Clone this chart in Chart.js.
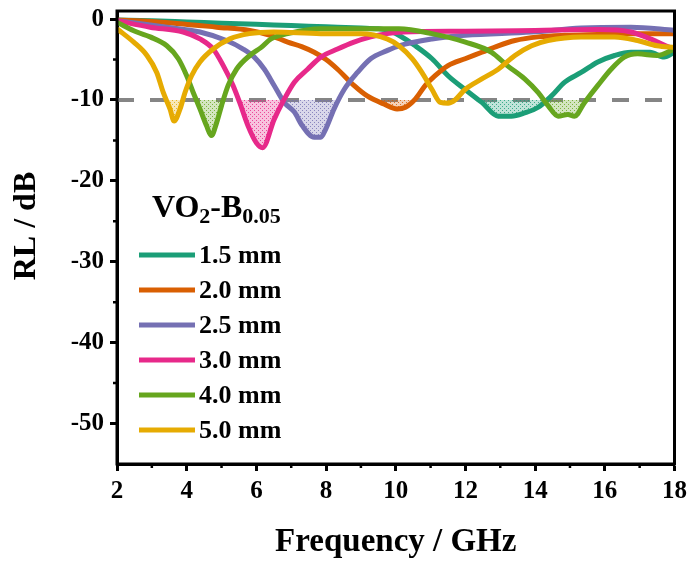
<!DOCTYPE html>
<html>
<head>
<meta charset="utf-8">
<script src="https://cdn.jsdelivr.net/npm/chart.js@4.4.1/dist/chart.umd.min.js"></script>
<style>
html,body{margin:0;padding:0;background:#ffffff;}
#wrap{width:693px;height:563px;position:relative;}
</style>
</head>
<body>
<div id="wrap"><canvas id="c" width="693" height="563"></canvas></div>
<script>
// ---------------- data ----------------
const seriesLabels = ['1.5 mm', '2.0 mm', '2.5 mm', '3.0 mm', '4.0 mm', '5.0 mm'];
const seriesColors = ['#1b9e77', '#d95f02', '#7570b3', '#e7298a', '#66a61e', '#e6ab02'];

const freq15 = [2, 3, 4, 5, 6, 7, 8, 9, 9.5, 9.8, 10.09, 10.56, 11.04, 11.5, 11.99, 12.47, 12.94, 13.32, 13.7, 14.09, 14.47, 14.85, 15.32, 15.8, 16.28, 16.75, 17.3, 17.7, 18];
const rl15   = [-0.1, -0.2, -0.35, -0.5, -0.65, -0.8, -0.95, -1.1, -1.2, -1.4, -2.0, -3.3, -4.9, -7.0, -8.7, -10.3, -12.0, -12.0, -11.6, -10.9, -9.5, -7.8, -6.6, -5.3, -4.5, -4.1, -4.1, -4.7, -4.1];

const freq20 = [2, 3, 3.9, 4.86, 5.81, 6.4, 6.9, 7.3, 7.66, 8.0, 8.33, 8.8, 9.18, 9.66, 10.04, 10.28, 10.56, 10.85, 11.13, 11.5, 11.99, 12.47, 12.94, 13.42, 14.09, 14.85, 15.8, 16.75, 18];
const rl20   = [-0.1, -0.3, -0.6, -1.0, -1.4, -2.0, -2.85, -3.4, -4.1, -5.0, -6.2, -8.2, -9.5, -10.5, -11.1, -10.9, -9.9, -8.2, -7.0, -5.75, -4.9, -4.1, -3.3, -2.65, -2.2, -2.0, -1.9, -1.8, -1.8];

const freq25 = [2, 3.43, 4.38, 5.14, 5.62, 5.94, 6.23, 6.51, 6.8, 7.09, 7.32, 7.66, 7.85, 7.99, 8.23, 8.52, 8.9, 9.28, 9.75, 10.09, 11.04, 12.0, 13.9, 15.32, 16.75, 18];
const rl25   = [-0.2, -1.0, -1.6, -2.65, -3.7, -4.7, -6.2, -8.2, -10.3, -11.5, -13.2, -14.6, -14.6, -13.6, -11.1, -8.7, -6.6, -4.9, -3.9, -3.3, -2.45, -2.0, -1.6, -1.1, -1.0, -1.4];

const freq30 = [2, 2.95, 3.9, 4.38, 4.76, 5.05, 5.33, 5.52, 5.76, 6.0, 6.18, 6.51, 6.8, 7.09, 7.47, 7.85, 8.33, 8.8, 9.28, 9.75, 10.23, 12.0, 14.0, 15.8, 16.75, 17.5, 18];
const rl30   = [-0.2, -1.0, -1.6, -2.45, -3.7, -5.75, -8.2, -10.3, -13.2, -15.3, -15.9, -12.4, -9.9, -7.8, -6.2, -4.7, -3.7, -2.85, -2.2, -1.8, -1.6, -1.5, -1.4, -1.3, -1.6, -2.8, -3.8];

const freq40 = [2, 2.57, 2.95, 3.43, 3.76, 4.0, 4.19, 4.38, 4.57, 4.71, 4.86, 5.0, 5.19, 5.43, 5.81, 6.14, 6.42, 6.9, 7.85, 9.0, 10.09, 11.04, 12.0, 12.75, 13.2, 13.7, 14.09, 14.37, 14.66, 14.94, 15.13, 15.42, 15.8, 16.18, 16.56, 16.94, 17.5, 18];
const rl40   = [-0.4, -1.6, -2.2, -3.3, -4.9, -7.0, -9.1, -11.1, -13.2, -14.4, -12.8, -10.7, -8.2, -6.2, -4.5, -3.5, -2.45, -1.8, -1.2, -1.2, -1.2, -1.8, -2.85, -4.1, -5.75, -7.4, -9.1, -10.7, -12.0, -11.8, -12.0, -10.3, -8.2, -6.2, -4.7, -4.3, -4.5, -3.7];

const freq50 = [2, 2.48, 2.86, 3.14, 3.33, 3.52, 3.64, 3.81, 3.95, 4.14, 4.38, 4.76, 5.24, 5.8, 6.5, 7.85, 9.0, 9.75, 10.09, 10.47, 10.75, 11.04, 11.28, 11.5, 11.7, 11.99, 12.47, 12.94, 13.42, 13.9, 14.37, 15.32, 16.28, 16.94, 17.5, 18];
const rl50   = [-1.2, -2.85, -4.5, -6.6, -9.1, -11.1, -12.6, -11.1, -9.1, -7.0, -5.3, -3.7, -2.45, -1.8, -1.6, -1.8, -1.8, -2.45, -3.3, -4.9, -6.6, -8.7, -10.3, -10.4, -10.0, -8.7, -7.4, -6.2, -4.5, -3.3, -2.65, -2.2, -2.2, -2.65, -3.3, -3.5];

const seriesFreqs = [freq15, freq20, freq25, freq30, freq40, freq50];
const seriesRL = [rl15, rl20, rl25, rl30, rl40, rl50];

const xTickValues = [2, 4, 6, 8, 10, 12, 14, 16, 18];
const xTickLabels = ['2', '4', '6', '8', '10', '12', '14', '16', '18'];
const xMinorValues = [3, 5, 7, 9, 11, 13, 15, 17];
const yTickValues = [0, -10, -20, -30, -40, -50];
const yTickLabels = ['0', '-10', '-20', '-30', '-40', '-50'];
const yMinorValues = [-5, -15, -25, -35, -45];
const thresholdRL = -10;
const xTitle = 'Frequency / GHz';
const yTitle = 'RL / dB';
const legendTitleParts = [['VO', 'main'], ['2', 'sub'], ['-B', 'main'], ['0.05', 'sub']];

// ---------------- helpers ----------------
const FONT = '"Liberation Serif", "Times New Roman", serif';
const canvas = document.getElementById('c');
const mainCtx = canvas.getContext('2d');

function hexToRgba(hex, a) {
  const n = parseInt(hex.slice(1), 16);
  return 'rgba(' + ((n >> 16) & 255) + ',' + ((n >> 8) & 255) + ',' + (n & 255) + ',' + a + ')';
}
function makePattern(hex) {
  const c = document.createElement('canvas');
  c.width = 4; c.height = 4;
  const g = c.getContext('2d');
  g.fillStyle = hexToRgba(hex, 0.28);
  g.fillRect(0, 0, 4, 4);
  g.fillStyle = hexToRgba(hex, 0.8);
  g.fillRect(0, 0, 1, 1);
  g.fillRect(2, 2, 1, 1);
  return mainCtx.createPattern(c, 'repeat');
}

const datasets = seriesLabels.map((lab, i) => ({
  label: lab,
  data: seriesFreqs[i].map((f, j) => ({ x: f, y: seriesRL[i][j] })),
  borderColor: seriesColors[i],
  borderWidth: 5,
  pointRadius: 0,
  cubicInterpolationMode: 'monotone',
  order: 5 - i,
  fill: { target: { value: thresholdRL }, above: 'rgba(0,0,0,0)', below: makePattern(seriesColors[i]) }
}));
datasets.push({
  label: 'threshold',
  data: [{ x: 2, y: thresholdRL }, { x: 18, y: thresholdRL }],
  borderColor: '#858585',
  borderWidth: 4,
  borderDash: [17, 16],
  pointRadius: 0,
  fill: false,
  order: 10
});

const decorPlugin = {
  id: 'decor',
  afterDraw(chart) {
    const ctx = chart.ctx;
    const a = chart.chartArea;
    const xs = chart.scales.x, ys = chart.scales.y;
    ctx.save();
    // frame
    ctx.strokeStyle = '#000';
    ctx.lineWidth = 3;
    ctx.strokeRect(a.left, a.top, a.right - a.left, a.bottom - a.top);
    // minor ticks
    ctx.lineWidth = 2.5;
    ctx.beginPath();
    xMinorValues.forEach(v => {
      const px = xs.getPixelForValue(v);
      ctx.moveTo(px, a.bottom); ctx.lineTo(px, a.bottom + 4);
    });
    yMinorValues.forEach(v => {
      const py = ys.getPixelForValue(v);
      ctx.moveTo(a.left, py); ctx.lineTo(a.left - 4, py);
    });
    ctx.stroke();
    // y title
    ctx.fillStyle = '#000';
    ctx.font = 'bold 32px ' + FONT;
    ctx.textAlign = 'center';
    ctx.textBaseline = 'middle';
    ctx.translate(27, 226);
    ctx.rotate(-Math.PI / 2);
    ctx.fillText(yTitle, 0, 0);
    ctx.restore();

    // legend
    ctx.save();
    ctx.fillStyle = '#000';
    ctx.textAlign = 'left';
    ctx.textBaseline = 'alphabetic';
    let x = 152;
    const base = 217;
    legendTitleParts.forEach(([t, kind]) => {
      if (kind === 'main') {
        ctx.font = 'bold 32px ' + FONT;
        ctx.fillText(t, x, base);
      } else {
        ctx.font = 'bold 22px ' + FONT;
        ctx.fillText(t, x, base + 6);
      }
      x += ctx.measureText(t).width;
    });
    ctx.textBaseline = 'middle';
    ctx.font = 'bold 26px ' + FONT;
    seriesLabels.forEach((lab, i) => {
      const y = 255 + i * 35;
      ctx.strokeStyle = seriesColors[i];
      ctx.lineWidth = 5;
      ctx.beginPath();
      ctx.moveTo(139, y); ctx.lineTo(195, y);
      ctx.stroke();
      ctx.fillText(lab, 199, y + 1);
    });
    ctx.restore();
  }
};

new Chart(canvas, {
  type: 'line',
  data: { datasets },
  options: {
    responsive: false,
    animation: false,
    devicePixelRatio: 1,
    layout: { padding: { left: 0, top: 11, right: 16, bottom: 0 } },
    plugins: { legend: { display: false }, tooltip: { enabled: false } },
    scales: {
      x: {
        type: 'linear',
        min: 2, max: 18,
        afterBuildTicks: s => { s.ticks = xTickValues.map(v => ({ value: v })); },
        afterFit: s => { s.height = 99; },
        ticks: {
          autoSkip: false, maxRotation: 0,
          callback: v => { const k = xTickValues.indexOf(v); return k >= 0 ? xTickLabels[k] : ''; },
          font: { family: FONT, weight: 'bold', size: 25 },
          color: '#000',
          padding: 6
        },
        grid: { display: true, drawOnChartArea: false, drawTicks: true, tickLength: 7, tickWidth: 3, tickColor: '#000' },
        border: { display: true, color: '#000', width: 3 },
        title: { display: true, text: xTitle, color: '#000', font: { family: FONT, weight: 'bold', size: 33 }, padding: { top: 4, bottom: 1 } }
      },
      y: {
        type: 'linear',
        min: -55, max: 1,
        afterBuildTicks: s => { s.ticks = yTickValues.map(v => ({ value: v })); },
        afterFit: s => { s.width = 117; s.paddingTop = 0; s.paddingBottom = 0; },
        ticks: {
          autoSkip: false,
          callback: v => { const k = yTickValues.indexOf(v); return k >= 0 ? yTickLabels[k] : ''; },
          font: { family: FONT, weight: 'bold', size: 25 },
          color: '#000',
          padding: 6
        },
        grid: { display: true, drawOnChartArea: false, drawTicks: true, tickLength: 7, tickWidth: 3, tickColor: '#000' },
        border: { display: true, color: '#000', width: 3 },
        title: { display: false }
      }
    }
  },
  plugins: [decorPlugin]
});
</script>
</body>
</html>
